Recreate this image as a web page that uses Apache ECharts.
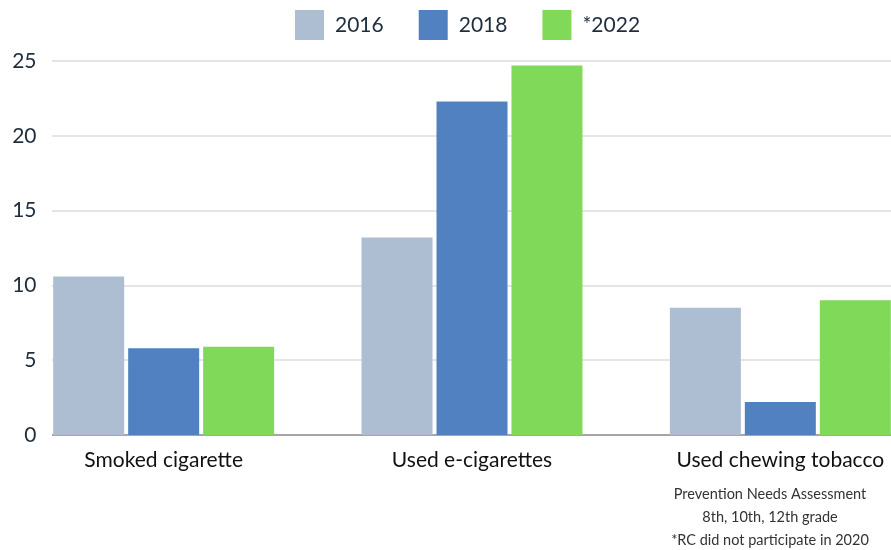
<!DOCTYPE html>
<html>
<head>
<meta charset="utf-8">
<script src="https://cdn.jsdelivr.net/npm/echarts@6/dist/echarts.min.js"></script>
<style>
  html, body { margin: 0; padding: 0; background: #fff; }
  #chart { width: 891px; height: 550px; }
</style>
</head>
<body>
<div id="chart"></div>
<script>
// categorias e valores
const categorias = ['Smoked cigarette', 'Used e-cigarettes', 'Used chewing tobacco'];
const anos = ['2016', '2018', '*2022'];
const valores2016 = [10.6, 13.2, 8.5];
const valores2018 = [5.8, 22.3, 2.2];
const valores2022 = [5.9, 24.7, 9.0];
const ticksY = [0, 5, 10, 15, 20, 25];
const notas = ['Prevention Needs Assessment', '8th, 10th, 12th grade', '*RC did not participate in 2020'];

const cores = ['#adbdd2', '#5181c0', '#80d958'];
const fonte = 'Lato, "Open Sans", sans-serif';

const chart = echarts.init(document.getElementById('chart'));

const series = [valores2016, valores2018, valores2022].map((vals, i) => ({
    name: anos[i],
    type: 'bar',
    data: vals,
    barWidth: 71,
    barGap: '5.6%',
    itemStyle: { color: cores[i] },
    emphasis: { disabled: true }
}));

const eixoY = {
    type: 'value',
    min: ticksY[0],
    max: ticksY[ticksY.length - 1],
    interval: 5,
    offset: -43,
    axisLine: { show: false },
    axisTick: { show: false }
};

const option = {
    animation: false,
    textStyle: { fontFamily: fonte },
    legend: {
        top: 10,
        left: 295,
        itemWidth: 29,
        itemHeight: 30,
        itemGap: 35,
        icon: 'rect',
        padding: 0,
        textStyle: { fontSize: 21, color: '#1f2d3d', fontFamily: fonte, padding: [0, 0, 0, 6] },
        data: anos
    },
    // o gráfico original está cortado à direita; a área útil passa da borda
    grid: { left: 9.5, top: 61, width: 925, bottom: 115, outerBoundsMode: 'none', containLabel: false },
    xAxis: {
        type: 'category',
        data: categorias,
        axisTick: { show: false },
        axisLine: { lineStyle: { color: '#a6a6a6', width: 2 } },
        axisLabel: { fontSize: 21, color: '#111', margin: 15, fontFamily: fonte }
    },
    yAxis: [
        // só as linhas de grade
        Object.assign({}, eixoY, {
            z: 0,
            axisLabel: { show: false },
            splitLine: { lineStyle: { color: '#dcdcdc', width: 1.5 } }
        }),
        // só os rótulos, acima da máscara branca
        Object.assign({}, eixoY, {
            z: 5,
            position: 'left',
            axisLabel: { fontSize: 21, color: '#1f2d3d', margin: 16, fontFamily: fonte },
            splitLine: { show: false }
        })
    ],
    graphic: [
        // tapa as linhas de grade à esquerda do eixo Y
        { type: 'rect', left: 0, top: 50, z: 1, shape: { width: 52, height: 392 }, style: { fill: '#fff' } },
        ...notas.map((t, i) => ({
            type: 'text',
            x: 770,
            y: 494 + i * 23,
            z: 10,
            style: { text: t, fontSize: 14.5, fill: '#333', fontFamily: fonte, textAlign: 'center', textVerticalAlign: 'middle' }
        }))
    ],
    series: series
};

chart.setOption(option);
</script>
</body>
</html>
